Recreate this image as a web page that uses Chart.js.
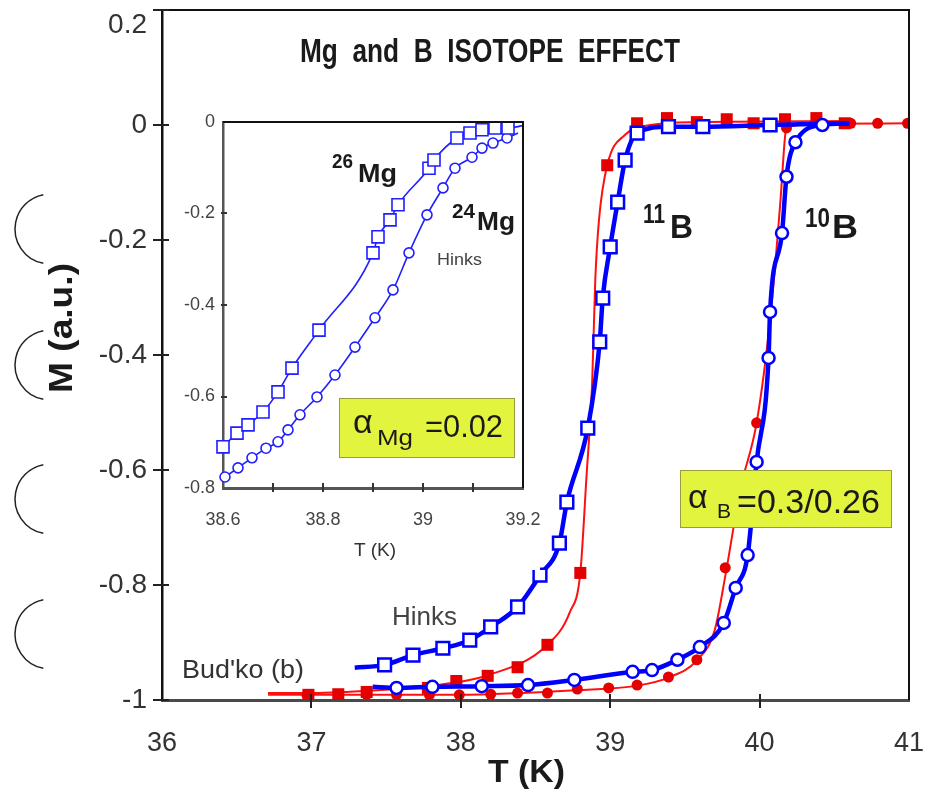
<!DOCTYPE html>
<html>
<head>
<meta charset="utf-8">
<script src="https://cdn.jsdelivr.net/npm/chart.js@4.4.0/dist/chart.umd.min.js"></script>
<style>
  body { margin: 0; background: #fff; }
  #wrap { position: relative; width: 934px; height: 797px; }
  #main { position: absolute; left: 0; top: 0; }
  #inset { position: absolute; left: 170px; top: 110px; background: #fff; }
</style>
</head>
<body>
<div id="wrap">
  <canvas id="main" width="934" height="797"></canvas>
  <canvas id="inset" width="370" height="460"></canvas>
</div>
<script>
/*==========| data: main panel, T (K) and M (a.u.) |==========*/
// 11B, Bud'ko (red filled squares)
const budko11T = [36.98, 37.18, 37.37, 37.78, 37.97, 38.18, 38.38, 38.58, 38.80, 38.98, 39.18, 39.38, 39.58, 39.78, 39.96, 40.17, 40.38, 40.57];
const budko11M = [-0.991, -0.990, -0.986, -0.979, -0.967, -0.958, -0.943, -0.904, -0.779, -0.070, 0.003, 0.012, 0.005, 0.010, 0.003, 0.010, 0.012, 0.003];
// red fit through 11B
const budko11FitT = [36.71, 36.98, 37.37, 37.78, 38.18, 38.58, 38.73, 38.80, 38.84, 38.88, 38.90, 38.925, 38.98, 39.10, 39.27, 39.60, 40.60];
const budko11FitM = [-0.988, -0.988, -0.984, -0.976, -0.957, -0.904, -0.847, -0.779, -0.617, -0.443, -0.270, -0.165, -0.070, -0.017, 0.0, 0.005, 0.007];

// 10B, Bud'ko (red filled circles)
const budko10T = [36.97, 37.18, 37.37, 37.57, 37.79, 37.99, 38.20, 38.38, 38.58, 38.78, 38.99, 39.18, 39.39, 39.58, 39.77, 39.98, 40.18, 40.61, 40.79, 40.99];
const budko10M = [-0.991, -0.991, -0.990, -0.991, -0.991, -0.991, -0.990, -0.988, -0.988, -0.981, -0.979, -0.974, -0.960, -0.930, -0.770, -0.518, -0.005, 0.003, 0.003, 0.003];
const budko10FitT = [36.71, 37.99, 38.78, 39.18, 39.39, 39.58, 39.70, 39.77, 39.87, 39.98, 40.07, 40.14, 40.17, 40.18, 40.40, 40.99];
const budko10FitM = [-0.991, -0.991, -0.983, -0.975, -0.961, -0.931, -0.878, -0.785, -0.635, -0.518, -0.339, -0.130, -0.021, -0.005, 0.002, 0.003];

// 11B, Hinks (blue open squares)
const hinks11T = [37.49, 37.68, 37.88, 38.06, 38.20, 38.38, 38.53, 38.66, 38.71, 38.85, 38.93, 38.95, 39.00, 39.05, 39.10, 39.18, 39.39, 39.62, 40.07];
const hinks11M = [-0.939, -0.922, -0.910, -0.896, -0.873, -0.838, -0.783, -0.727, -0.656, -0.527, -0.377, -0.301, -0.212, -0.134, -0.061, -0.014, -0.003, -0.003, 0.000];
const hinks11Ends = [[37.29, -0.944], [40.60, 0.003]];

// 10B, Hinks (blue open circles)
const hinks10T = [37.57, 37.81, 38.14, 38.45, 38.76, 39.15, 39.28, 39.45, 39.60, 39.76, 39.84, 39.92, 39.98, 40.06, 40.07, 40.15, 40.18, 40.24, 40.42];
const hinks10M = [-0.979, -0.977, -0.976, -0.974, -0.965, -0.951, -0.948, -0.930, -0.908, -0.866, -0.805, -0.748, -0.586, -0.405, -0.325, -0.188, -0.090, -0.030, 0.000];
const hinks10Ends = [[37.41, -0.977], [40.60, 0.003]];

/*==========| data: inset (Mg isotopes, Hinks) |==========*/
const mg26T = [38.600, 38.628, 38.650, 38.680, 38.710, 38.738, 38.792, 38.900, 38.910, 38.934, 38.950, 39.012, 39.022, 39.068, 39.094, 39.118, 39.144, 39.170];
const mg26M = [-0.710, -0.680, -0.662, -0.634, -0.590, -0.538, -0.455, -0.286, -0.251, -0.214, -0.181, -0.101, -0.083, -0.035, -0.024, -0.017, -0.013, -0.013];
const mg26End = [39.20, -0.008];
const mg24T = [38.604, 38.630, 38.658, 38.686, 38.710, 38.730, 38.754, 38.788, 38.824, 38.864, 38.904, 38.940, 38.972, 39.008, 39.040, 39.064, 39.098, 39.118, 39.140, 39.168];
const mg24M = [-0.776, -0.756, -0.734, -0.713, -0.699, -0.673, -0.640, -0.601, -0.553, -0.492, -0.428, -0.367, -0.286, -0.203, -0.144, -0.101, -0.077, -0.057, -0.046, -0.035];
const mg24End = [39.19, -0.024];

/*==========| setup |==========*/
const FONT = "'Liberation Sans', Arial, Helvetica, sans-serif";
const BLUE = '#0000ff';
const RED = '#ff1010';
const REDMARK = '#e40000';

const pts = (xs, ys) => xs.map((v, i) => ({ x: v, y: ys[i] }));
const withEnds = (xs, ys, ends) => [{ x: ends[0][0], y: ends[0][1] }, ...pts(xs, ys), { x: ends[1][0], y: ends[1][1] }];
const fmt = v => String(Math.round(v * 10) / 10);

// draws text, optionally squeezed to a given width
function label(ctx, text, x, y, size, o = {}) {
  ctx.save();
  ctx.font = (o.bold ? 'bold ' : '') + size + 'px ' + FONT;
  ctx.fillStyle = o.color || '#1a1a1a';
  ctx.textBaseline = o.base || 'alphabetic';
  ctx.textAlign = 'left';
  const w = ctx.measureText(text).width;
  const sx = o.width ? o.width / w : 1;
  ctx.translate(x, y);
  if (o.rotate) ctx.rotate(o.rotate);
  ctx.scale(sx, 1);
  let dx = 0;
  if (o.align === 'center') dx = -w / 2;
  if (o.align === 'right') dx = -w;
  ctx.fillText(text, dx, 0);
  ctx.restore();
}

function alphaBox(ctx, x, y, w, h) {
  ctx.save();
  ctx.fillStyle = '#e2f43e';
  ctx.strokeStyle = '#9a9c40';
  ctx.lineWidth = 1;
  ctx.fillRect(x, y, w, h);
  ctx.strokeRect(x + 0.5, y + 0.5, w - 1, h - 1);
  ctx.restore();
}

/*==========| main chart decorations |==========*/
const mainDecor = {
  id: 'mainDecor',
  afterDraw(chart) {
    const { ctx, chartArea: a, scales: { x, y } } = chart;
    ctx.save();
    ctx.strokeStyle = '#111';
    ctx.lineWidth = 2;
    ctx.beginPath();
    ctx.moveTo(a.left, a.top);
    ctx.lineTo(a.right, a.top);
    ctx.lineTo(a.right, a.bottom);
    ctx.stroke();

    // ticks crossing the axes
    ctx.strokeStyle = '#222';
    y.ticks.forEach(t => {
      const py = Math.round(y.getPixelForValue(t.value));
      ctx.beginPath(); ctx.moveTo(a.left - 9, py); ctx.lineTo(a.left + 7, py); ctx.stroke();
    });
    x.ticks.forEach(t => {
      if (t.value <= 36 || t.value >= 41) return;
      const px = Math.round(x.getPixelForValue(t.value));
      ctx.beginPath(); ctx.moveTo(px, a.bottom - 6); ctx.lineTo(px, a.bottom + 8); ctx.stroke();
    });

    // the half circles on the left margin
    ctx.strokeStyle = '#222';
    ctx.lineWidth = 1.5;
    [229, 365, 499, 634].forEach(cy => {
      ctx.beginPath();
      ctx.arc(50, cy, 35, 101 * Math.PI / 180, 259 * Math.PI / 180);
      ctx.stroke();
    });
    ctx.restore();

    label(ctx, '0.2', 147, 25, 28, { color: '#333', align: 'right', base: 'middle' });
    label(ctx, 'Mg  and  B  ISOTOPE  EFFECT', 300, 62, 34, { bold: true, width: 380 });
    label(ctx, 'M (a.u.)', 72, 328, 34, { bold: true, width: 130, align: 'center', rotate: -Math.PI / 2 });
    label(ctx, 'T (K)', 488, 782, 32, { bold: true, width: 77 });

    label(ctx, '11', 643, 223, 28, { bold: true, width: 22 });
    label(ctx, 'B', 670, 238, 34, { bold: true, width: 23 });
    label(ctx, '10', 805, 227, 28, { bold: true, width: 25 });
    label(ctx, 'B', 832, 238, 34, { bold: true, width: 26 });

    label(ctx, 'Hinks', 392, 625, 25, { color: '#444', width: 65 });
    label(ctx, "Bud'ko (b)", 182, 678, 25, { color: '#333', width: 122 });

    alphaBox(ctx, 680, 470, 212, 58);
    label(ctx, 'α', 688, 508, 34);
    label(ctx, 'B', 717, 518, 21);
    label(ctx, '=0.3/0.26', 737, 513, 34, { width: 143 });
  }
};

/*==========| main chart |==========*/
const mainChart = new Chart(document.getElementById('main'), {
  type: 'scatter',
  data: {
    datasets: [
      { data: pts(hinks11T, hinks11M), pointStyle: 'rect', pointRadius: 9, pointBorderWidth: 2.5,
        pointBackgroundColor: '#fff', pointBorderColor: BLUE, order: 0 },
      { data: pts(hinks10T, hinks10M), pointStyle: 'circle', pointRadius: 6, pointBorderWidth: 2.5,
        pointBackgroundColor: '#fff', pointBorderColor: BLUE, order: 0 },
      { data: withEnds(hinks11T, hinks11M, hinks11Ends), showLine: true, pointRadius: 0, borderColor: BLUE,
        borderWidth: 4.5, cubicInterpolationMode: 'monotone', order: 1 },
      { data: withEnds(hinks10T, hinks10M, hinks10Ends), showLine: true, pointRadius: 0, borderColor: BLUE,
        borderWidth: 4.5, cubicInterpolationMode: 'monotone', order: 1 },
      { data: pts(budko11T, budko11M), pointStyle: 'rect', pointRadius: 8.5, pointBorderWidth: 0,
        pointBackgroundColor: REDMARK, order: 2 },
      { data: pts(budko10T, budko10M), pointStyle: 'circle', pointRadius: 5.5, pointBorderWidth: 0,
        pointBackgroundColor: REDMARK, order: 2 },
      { data: pts(budko11FitT, budko11FitM), showLine: true, pointRadius: 0, borderColor: RED,
        borderWidth: 2, cubicInterpolationMode: 'monotone', order: 3 },
      { data: pts(budko10FitT, budko10FitM), showLine: true, pointRadius: 0, borderColor: RED,
        borderWidth: 2, cubicInterpolationMode: 'monotone', order: 3 }
    ]
  },
  options: {
    responsive: false,
    animation: false,
    events: [],
    layout: { autoPadding: false, padding: { top: 10, right: 25, left: 0, bottom: 0 } },
    plugins: { legend: { display: false }, tooltip: { enabled: false } },
    scales: {
      x: {
        type: 'linear', min: 36, max: 41,
        ticks: { stepSize: 1, color: '#333', font: { size: 27, family: FONT }, padding: 27, callback: fmt },
        grid: { display: false, drawTicks: false },
        border: { color: '#4a4a4a', width: 3 },
        afterFit: s => { s.height = 97; s.paddingLeft = 0; s.paddingRight = 0; }
      },
      y: {
        type: 'linear', min: -1, max: 0.2,
        ticks: { stepSize: 0.2, color: '#333', font: { size: 28, family: FONT }, padding: 15,
          callback: v => (Math.abs(v - 0.2) < 1e-6 ? '' : fmt(v)) },
        grid: { display: false, drawTicks: false },
        border: { color: '#111', width: 2.5 },
        afterFit: s => { s.width = 162; s.paddingTop = 0; s.paddingBottom = 0; }
      }
    }
  },
  plugins: [mainDecor]
});

/*==========| inset decorations |==========*/
const insetDecor = {
  id: 'insetDecor',
  afterDraw(chart) {
    const { ctx, chartArea: a, scales: { x, y } } = chart;
    ctx.save();
    ctx.strokeStyle = '#111';
    ctx.lineWidth = 2;
    ctx.beginPath();
    ctx.moveTo(a.left, a.top);
    ctx.lineTo(a.right, a.top);
    ctx.lineTo(a.right, a.bottom);
    ctx.stroke();
    ctx.strokeStyle = '#333';
    x.ticks.forEach(t => {
      if (t.value <= 38.6 + 1e-6 || t.value >= 39.2 - 1e-6) return;
      const px = Math.round(x.getPixelForValue(t.value));
      ctx.beginPath(); ctx.moveTo(px, a.bottom - 5); ctx.lineTo(px, a.bottom + 4); ctx.stroke();
    });
    y.ticks.forEach(t => {
      if (t.value <= -0.8 + 1e-6 || t.value >= -1e-6) return;
      const py = Math.round(y.getPixelForValue(t.value));
      ctx.beginPath(); ctx.moveTo(a.left - 2, py); ctx.lineTo(a.left + 4, py); ctx.stroke();
    });
    ctx.restore();

    label(ctx, '26', 162, 58, 20, { bold: true, width: 21 });
    label(ctx, 'Mg', 188, 72, 25, { bold: true, width: 39 });
    label(ctx, '24', 282, 108, 20, { bold: true, width: 23 });
    label(ctx, 'Mg', 307, 120, 25, { bold: true, width: 38 });
    label(ctx, 'Hinks', 267, 155, 17, { color: '#444', width: 45 });

    alphaBox(ctx, 169, 288, 176, 60);
    label(ctx, 'α', 183, 323, 34);
    label(ctx, 'Mg', 207, 335, 22, { width: 36 });
    label(ctx, '=0.02', 255, 327, 32, { width: 78 });

    label(ctx, 'T (K)', 205, 446, 19, { color: '#333', align: 'center' });
  }
};

/*==========| inset chart |==========*/
const insetChart = new Chart(document.getElementById('inset'), {
  type: 'scatter',
  data: {
    datasets: [
      { data: pts(mg26T, mg26M), pointStyle: 'rect', pointRadius: 8.5, pointBorderWidth: 1.6,
        pointBackgroundColor: '#fff', pointBorderColor: '#1f1fff', clip: false, order: 0 },
      { data: pts(mg24T, mg24M), pointStyle: 'circle', pointRadius: 5, pointBorderWidth: 1.6,
        pointBackgroundColor: '#fff', pointBorderColor: '#1f1fff', clip: false, order: 0 },
      { data: [...pts(mg26T, mg26M), { x: mg26End[0], y: mg26End[1] }], showLine: true, pointRadius: 0,
        borderColor: '#1f1fff', borderWidth: 1.6, cubicInterpolationMode: 'monotone', order: 1 },
      { data: [...pts(mg24T, mg24M), { x: mg24End[0], y: mg24End[1] }], showLine: true, pointRadius: 0,
        borderColor: '#1f1fff', borderWidth: 1.6, cubicInterpolationMode: 'monotone', order: 1 }
    ]
  },
  options: {
    responsive: false,
    animation: false,
    events: [],
    layout: { autoPadding: false, padding: { top: 12, right: 17, left: 0, bottom: 0 } },
    plugins: { legend: { display: false }, tooltip: { enabled: false } },
    scales: {
      x: {
        type: 'linear', min: 38.6, max: 39.2,
        ticks: { stepSize: 0.1, color: '#444', font: { size: 18, family: FONT }, padding: 21, maxRotation: 0,
          autoSkip: false,
          callback: v => (Math.round(v * 10) % 2 === 0 ? fmt(v) : '') },
        grid: { display: false, drawTicks: false },
        border: { color: '#555', width: 3 },
        afterFit: s => { s.height = 82; s.paddingLeft = 0; s.paddingRight = 0; }
      },
      y: {
        type: 'linear', min: -0.8, max: 0,
        ticks: { stepSize: 0.2, color: '#444', font: { size: 18, family: FONT }, padding: 8, callback: fmt },
        grid: { display: false, drawTicks: false },
        border: { color: '#555', width: 2.5 },
        afterFit: s => { s.width = 53; s.paddingTop = 0; s.paddingBottom = 0; }
      }
    }
  },
  plugins: [insetDecor]
});
</script>
</body>
</html>
